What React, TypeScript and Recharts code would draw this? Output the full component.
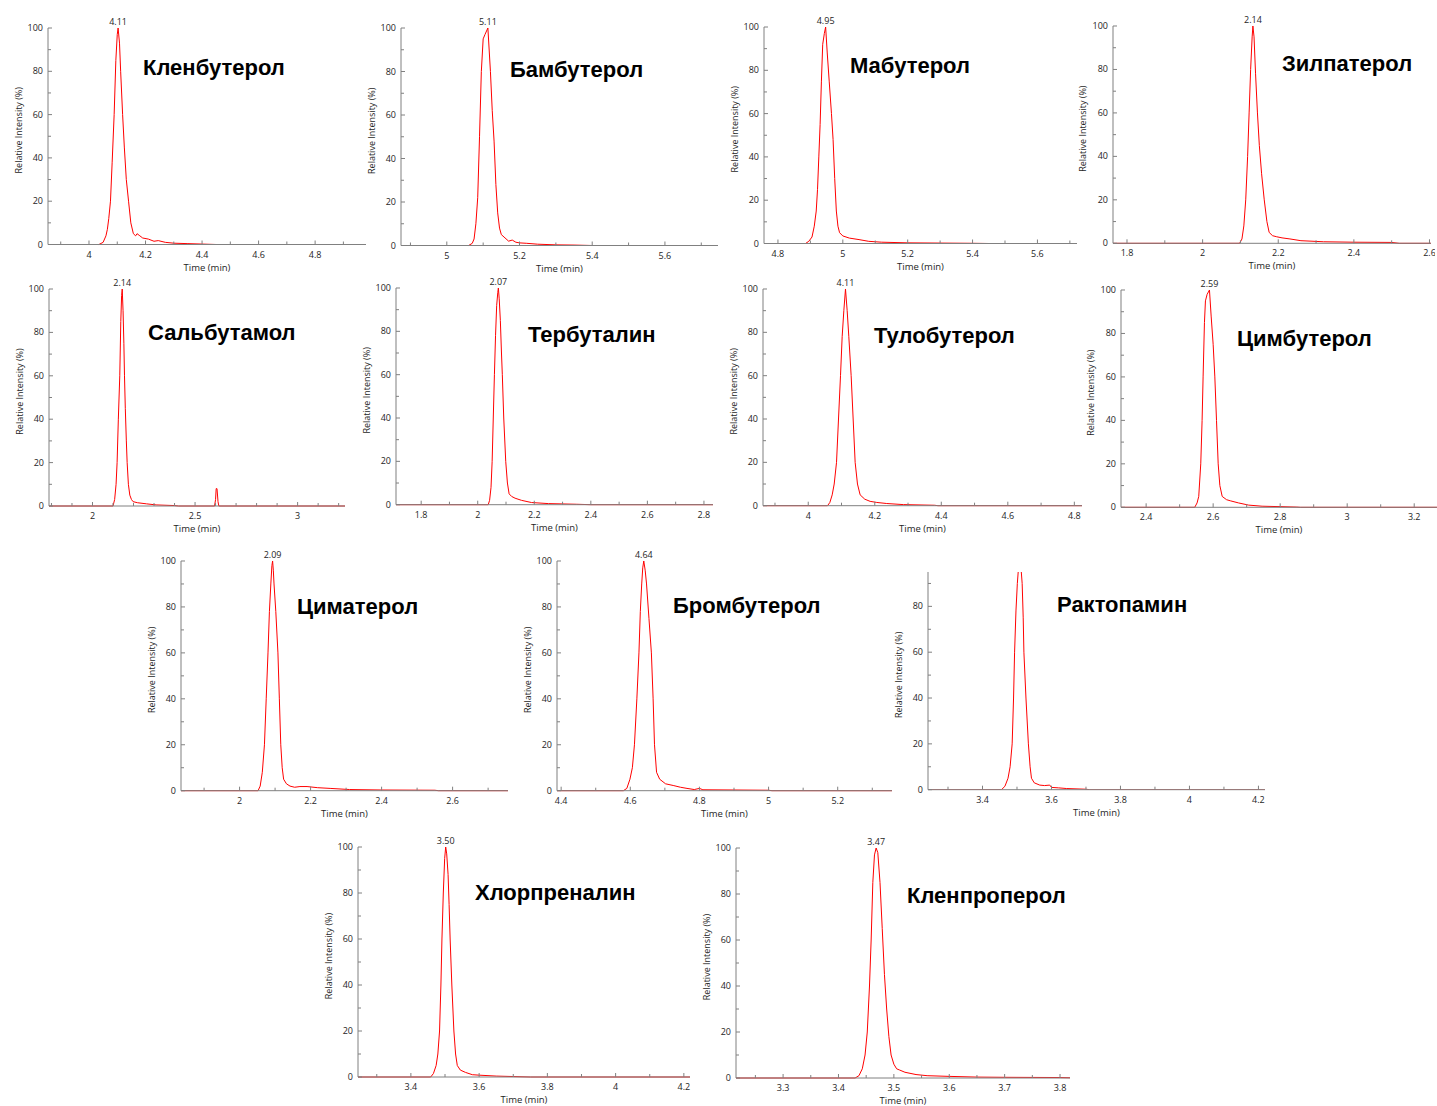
import React from 'react';
import { LineChart, Line, XAxis, YAxis, ReferenceDot } from 'recharts';

type Pt = [number, number];

// chromatogram traces: [time (min), relative intensity (%)]
const clenbuterol: Pt[] = [
  [3.855, 0], [4.035, 0], [4.05, 1], [4.06, 4], [4.065, 7], [4.07, 12], [4.076, 20], [4.082, 38],
  [4.089, 60], [4.095, 85], [4.1, 97], [4.103, 100], [4.108, 93], [4.112, 80], [4.119, 60], [4.125, 45],
  [4.132, 30], [4.14, 20], [4.148, 10], [4.157, 5], [4.165, 4], [4.17, 5], [4.18, 4], [4.19, 3],
  [4.21, 2.5], [4.23, 1.5], [4.245, 1.8], [4.27, 1], [4.3, 0.6], [4.35, 0.4], [4.4, 0.2], [4.45, 0], [4.98, 0],
];
const bambuterol: Pt[] = [
  [4.874, 0], [5.06, 0], [5.07, 1], [5.075, 3], [5.08, 10], [5.085, 22], [5.09, 50], [5.095, 80],
  [5.1, 95], [5.105, 97], [5.113, 100], [5.12, 80], [5.125, 62], [5.13, 48], [5.135, 28], [5.14, 15],
  [5.145, 8], [5.15, 5], [5.16, 3.5], [5.17, 2], [5.18, 2.5], [5.19, 1.5], [5.2, 1.2], [5.22, 1],
  [5.25, 0.6], [5.3, 0.3], [5.35, 0.2], [5.4, 0], [5.746, 0],
];
const mabuterol: Pt[] = [
  [4.757, 0], [4.885, 0], [4.895, 1], [4.905, 3], [4.912, 8], [4.918, 15], [4.922, 25], [4.926, 40],
  [4.93, 55], [4.934, 75], [4.938, 92], [4.943, 97], [4.947, 100], [4.952, 88], [4.958, 75], [4.965, 60],
  [4.97, 48], [4.975, 30], [4.98, 15], [4.985, 8], [4.99, 5], [5.0, 3.5], [5.02, 2.5], [5.05, 1.8],
  [5.08, 1], [5.12, 0.6], [5.2, 0.3], [5.3, 0.2], [5.4, 0.1], [5.45, 0], [5.722, 0],
];
const zilpaterol: Pt[] = [
  [1.763, 0], [2.098, 0], [2.104, 2], [2.109, 8], [2.114, 20], [2.119, 40], [2.123, 60], [2.127, 80],
  [2.131, 95], [2.133, 100], [2.136, 95], [2.14, 78], [2.145, 60], [2.15, 45], [2.156, 32], [2.163, 20],
  [2.17, 10], [2.176, 5], [2.185, 3.5], [2.196, 3], [2.21, 2.5], [2.231, 2], [2.26, 1.2], [2.284, 1],
  [2.32, 0.7], [2.4, 0.5], [2.5, 0.4], [2.52, 0], [2.604, 0],
];
const salbutamol: Pt[] = [
  [1.788, 0], [2.1, 0], [2.108, 3], [2.115, 10], [2.12, 20], [2.126, 40], [2.133, 60], [2.138, 85],
  [2.142, 97], [2.145, 100], [2.149, 90], [2.153, 75], [2.156, 60], [2.16, 45], [2.165, 30], [2.169, 20],
  [2.175, 10], [2.182, 5], [2.19, 3], [2.198, 2], [2.22, 1.5], [2.263, 1], [2.31, 0.5], [2.4, 0.2],
  [2.42, 0], [2.595, 0], [2.6, 3], [2.603, 8], [2.607, 8], [2.612, 2], [2.616, 0], [3.231, 0],
];
const terbutaline: Pt[] = [
  [1.711, 0], [2.037, 0], [2.042, 2], [2.047, 8], [2.051, 20], [2.055, 40], [2.059, 60], [2.063, 78],
  [2.067, 92], [2.071, 98], [2.073, 100], [2.076, 95], [2.08, 85], [2.084, 70], [2.087, 60], [2.092, 40],
  [2.099, 20], [2.105, 10], [2.111, 5], [2.12, 3.8], [2.132, 3], [2.155, 2], [2.19, 1], [2.25, 0.5],
  [2.35, 0.2], [2.4, 0], [2.832, 0],
];
const tulobuterol: Pt[] = [
  [3.864, 0], [4.058, 0], [4.065, 1.5], [4.072, 5], [4.078, 10], [4.085, 20], [4.091, 40], [4.097, 60],
  [4.102, 78], [4.107, 90], [4.112, 100], [4.117, 90], [4.122, 78], [4.129, 60], [4.135, 40], [4.141, 20],
  [4.148, 10], [4.156, 5], [4.17, 3], [4.186, 2], [4.206, 1.5], [4.236, 1], [4.286, 0.5], [4.38, 0.2],
  [4.39, 0], [4.823, 0],
];
const cimbuterol: Pt[] = [
  [2.325, 0], [2.545, 0], [2.552, 2], [2.557, 5], [2.563, 20], [2.567, 40], [2.57, 60], [2.574, 85],
  [2.577, 95], [2.582, 98], [2.589, 100], [2.594, 88], [2.6, 75], [2.605, 60], [2.61, 40], [2.615, 20],
  [2.62, 10], [2.627, 5], [2.64, 3.5], [2.651, 3], [2.676, 2], [2.706, 1], [2.746, 0.5], [2.8, 0.3],
  [2.85, 0.1], [2.86, 0], [3.268, 0],
];
const cimaterol: Pt[] = [
  [1.835, 0], [2.052, 0], [2.058, 2], [2.064, 8], [2.07, 20], [2.075, 40], [2.08, 60], [2.084, 78],
  [2.088, 90], [2.091, 98], [2.093, 100], [2.095, 96], [2.097, 90], [2.102, 78], [2.108, 60], [2.112, 40],
  [2.116, 20], [2.12, 10], [2.124, 5], [2.132, 3], [2.142, 2], [2.155, 1.5], [2.17, 1.8], [2.19, 1.8],
  [2.22, 1.3], [2.255, 1], [2.31, 0.5], [2.4, 0.3], [2.55, 0.2], [2.56, 0], [2.756, 0],
];
const brombuterol: Pt[] = [
  [4.388, 0], [4.58, 0], [4.59, 1], [4.599, 5], [4.606, 10], [4.612, 20], [4.619, 40], [4.625, 60],
  [4.629, 78], [4.633, 90], [4.636, 97], [4.639, 100], [4.643, 96], [4.647, 90], [4.654, 75], [4.661, 60],
  [4.666, 40], [4.67, 20], [4.676, 8], [4.685, 5], [4.702, 3], [4.726, 2.2], [4.745, 1.5], [4.764, 1],
  [4.785, 0.5], [4.8, 1], [4.81, 0.4], [4.9, 0.3], [5.0, 0.2], [5.01, 0], [5.357, 0],
];
const ractopamine: Pt[] = [
  [3.242, 0], [3.455, 0], [3.465, 1.5], [3.474, 5], [3.48, 10], [3.486, 20], [3.49, 40], [3.493, 60],
  [3.497, 78], [3.501, 90], [3.505, 98], [3.508, 100], [3.511, 98], [3.515, 90], [3.518, 75], [3.52, 60],
  [3.526, 40], [3.533, 20], [3.538, 10], [3.542, 5], [3.55, 3], [3.566, 2], [3.58, 1.8], [3.595, 2],
  [3.6, 1], [3.62, 0.8], [3.644, 0.5], [3.7, 0.2], [3.71, 0], [4.219, 0],
];
const clorprenaline: Pt[] = [
  [3.245, 0], [3.458, 0], [3.466, 1.5], [3.474, 5], [3.479, 10], [3.484, 20], [3.488, 40], [3.491, 60],
  [3.495, 80], [3.499, 95], [3.502, 100], [3.505, 97], [3.509, 88], [3.512, 75], [3.515, 60], [3.52, 40],
  [3.526, 20], [3.531, 10], [3.536, 5], [3.545, 3], [3.56, 2], [3.58, 1], [3.6, 0.8], [3.65, 0.4],
  [3.7, 0.2], [3.75, 0], [4.218, 0],
];
const clenproperol: Pt[] = [
  [3.215, 0], [3.43, 0], [3.437, 1], [3.443, 4], [3.448, 10], [3.452, 20], [3.456, 40], [3.459, 60],
  [3.462, 85], [3.465, 97], [3.468, 100], [3.471, 98], [3.475, 85], [3.479, 65], [3.483, 45], [3.487, 30],
  [3.491, 18], [3.495, 10], [3.5, 6], [3.505, 4], [3.51, 3.5], [3.52, 2.5], [3.54, 1.5], [3.56, 1],
  [3.6, 0.7], [3.65, 0.4], [3.7, 0.3], [3.8, 0.2], [3.818, 0.1],
];

const yMajorFull = [0, 20, 40, 60, 80, 100];
const yMinorFull = [10, 30, 50, 70, 90];
const yMajorCut = [0, 20, 40, 60, 80];

const AXIS = '#808080';
const TEXT = '#1e1e1e';
const RED = '#ff0000';

// chart frame around the plot area
const ML = 4, YW = 40, MR = 4, MT = 14, XH = 30, MB = 2;

interface PanelDef {
  title: string;
  trace: Pt[];
  x0: number; x1: number; yTop: number; yBot: number;
  xDomain: [number, number];
  xMajor: number[];
  xStep: number;
  yMax: number;
  yMajor: number[];
  peakT?: number;
  peakLabel?: string;
  titleX: number; titleY: number;
}

const panels: PanelDef[] = [
  { title: 'Кленбутерол', trace: clenbuterol, x0: 48, x1: 366, yTop: 27.5, yBot: 244, xDomain: [3.855, 4.98], xMajor: [4, 4.2, 4.4, 4.6, 4.8], xStep: 0.1, yMax: 100, yMajor: yMajorFull, peakT: 4.103, peakLabel: '4.11', titleX: 143, titleY: 68 },
  { title: 'Бамбутерол', trace: bambuterol, x0: 401, x1: 718, yTop: 28, yBot: 245.5, xDomain: [4.874, 5.746], xMajor: [5, 5.2, 5.4, 5.6], xStep: 0.1, yMax: 100, yMajor: yMajorFull, peakT: 5.113, peakLabel: '5.11', titleX: 510, titleY: 70 },
  { title: 'Мабутерол', trace: mabuterol, x0: 764, x1: 1077, yTop: 26.5, yBot: 243, xDomain: [4.757, 5.722], xMajor: [4.8, 5, 5.2, 5.4, 5.6], xStep: 0.1, yMax: 100, yMajor: yMajorFull, peakT: 4.947, peakLabel: '4.95', titleX: 850, titleY: 66 },
  { title: 'Зилпатерол', trace: zilpaterol, x0: 1113, x1: 1431, yTop: 26, yBot: 243.3, xDomain: [1.763, 2.604], xMajor: [1.8, 2, 2.2, 2.4, 2.6], xStep: 0.1, yMax: 100, yMajor: yMajorFull, peakT: 2.133, peakLabel: '2.14', titleX: 1282, titleY: 64 },
  { title: 'Сальбутамол', trace: salbutamol, x0: 49, x1: 345, yTop: 289, yBot: 506, xDomain: [1.788, 3.231], xMajor: [2, 2.5, 3], xStep: 0.1, yMax: 100, yMajor: yMajorFull, peakT: 2.145, peakLabel: '2.14', titleX: 148, titleY: 333 },
  { title: 'Тербуталин', trace: terbutaline, x0: 396, x1: 713, yTop: 288.3, yBot: 505, xDomain: [1.711, 2.832], xMajor: [1.8, 2, 2.2, 2.4, 2.6, 2.8], xStep: 0.1, yMax: 100, yMajor: yMajorFull, peakT: 2.073, peakLabel: '2.07', titleX: 528, titleY: 335 },
  { title: 'Тулобутерол', trace: tulobuterol, x0: 763, x1: 1082, yTop: 289.3, yBot: 506, xDomain: [3.864, 4.823], xMajor: [4, 4.2, 4.4, 4.6, 4.8], xStep: 0.1, yMax: 100, yMajor: yMajorFull, peakT: 4.112, peakLabel: '4.11', titleX: 874, titleY: 336 },
  { title: 'Цимбутерол', trace: cimbuterol, x0: 1121, x1: 1437, yTop: 290, yBot: 507.3, xDomain: [2.325, 3.268], xMajor: [2.4, 2.6, 2.8, 3, 3.2], xStep: 0.1, yMax: 100, yMajor: yMajorFull, peakT: 2.589, peakLabel: '2.59', titleX: 1237, titleY: 339 },
  { title: 'Циматерол', trace: cimaterol, x0: 181, x1: 508, yTop: 561, yBot: 790.7, xDomain: [1.835, 2.756], xMajor: [2, 2.2, 2.4, 2.6], xStep: 0.1, yMax: 100, yMajor: yMajorFull, peakT: 2.093, peakLabel: '2.09', titleX: 297, titleY: 607 },
  { title: 'Бромбутерол', trace: brombuterol, x0: 557, x1: 892, yTop: 561, yBot: 790.7, xDomain: [4.388, 5.357], xMajor: [4.4, 4.6, 4.8, 5, 5.2], xStep: 0.1, yMax: 100, yMajor: yMajorFull, peakT: 4.639, peakLabel: '4.64', titleX: 673, titleY: 606 },
  { title: 'Рактопамин', trace: ractopamine, x0: 928, x1: 1265, yTop: 572.3, yBot: 790, xDomain: [3.242, 4.219], xMajor: [3.4, 3.6, 3.8, 4, 4.2], xStep: 0.1, yMax: 95, yMajor: yMajorCut, titleX: 1057, titleY: 605 },
  { title: 'Хлорпреналин', trace: clorprenaline, x0: 358, x1: 690, yTop: 847, yBot: 1077, xDomain: [3.245, 4.218], xMajor: [3.4, 3.6, 3.8, 4, 4.2], xStep: 0.1, yMax: 100, yMajor: yMajorFull, peakT: 3.502, peakLabel: '3.50', titleX: 475, titleY: 893 },
  { title: 'Кленпроперол', trace: clenproperol, x0: 736, x1: 1070, yTop: 848, yBot: 1078, xDomain: [3.215, 3.818], xMajor: [3.3, 3.4, 3.5, 3.6, 3.7, 3.8], xStep: 0.05, yMax: 100, yMajor: yMajorFull, peakT: 3.468, peakLabel: '3.47', titleX: 907, titleY: 896 },
];

const isIn = (arr: number[], v: number) => arr.some((m) => Math.abs(m - v) < 1e-6);

function minorTicks(domain: [number, number], step: number, majors: number[]) {
  const out: number[] = [];
  const start = Math.ceil(domain[0] / step - 1e-9);
  for (let k = start; k * step <= domain[1] + 1e-9; k++) {
    const v = Math.round(k * step * 1000) / 1000;
    if (!isIn(majors, v)) out.push(v);
  }
  return out;
}

const fmt = (v: number) => String(Number(v.toFixed(2)));

const XTick = (props: any) => {
  const { x, y, payload, majors } = props;
  const major = isIn(majors, payload.value);
  return (
    <g>
      <line x1={x} x2={x} y1={y} y2={y - (major ? 4 : 3)} stroke={AXIS} />
      {major && (
        <text x={x} y={y + 13} textAnchor="middle" fontSize={9} fill={TEXT}>
          {fmt(payload.value)}
        </text>
      )}
    </g>
  );
};

const YTick = (props: any) => {
  const { x, y, payload, majors } = props;
  const major = isIn(majors, payload.value);
  return (
    <g>
      <line x1={x} x2={x + (major ? 4 : 3)} y1={y} y2={y} stroke={AXIS} />
      {major && (
        <text x={x - 5} y={y + 3} textAnchor="end" fontSize={9} fill={TEXT}>
          {payload.value}
        </text>
      )}
    </g>
  );
};

// rotated y-axis title, sitting a little above the middle of the axis
const YTitle = (props: any) => {
  const vb = props.viewBox || {};
  const cx = vb.x + 10;
  const cy = vb.y + vb.height / 2 - 6;
  return (
    <text
      x={cx}
      y={cy}
      transform={`rotate(-90, ${cx}, ${cy})`}
      textAnchor="middle"
      dominantBaseline="central"
      fontSize={9}
      fill={TEXT}
    >
      Relative Intensity (%)
    </text>
  );
};

function Panel({ def }: { def: PanelDef }) {
  const data = def.trace.map(([t, v]) => ({ t, v }));
  const w = def.x1 - def.x0 + ML + YW + MR;
  const h = def.yBot - def.yTop + MT + XH + MB;
  const xTicks = [...def.xMajor, ...minorTicks(def.xDomain, def.xStep, def.xMajor)].sort((a, b) => a - b);
  const yTicks = [...def.yMajor, ...yMinorFull].sort((a, b) => a - b);
  return (
    <div style={{ position: 'absolute', left: def.x0 - ML - YW, top: def.yTop - MT, width: w, height: h }}>
      <LineChart width={w} height={h} data={data} margin={{ top: MT, right: MR, bottom: MB, left: ML }}>
        <XAxis
          type="number"
          dataKey="t"
          domain={def.xDomain}
          ticks={xTicks}
          interval={0}
          height={XH}
          tickSize={0}
          tickMargin={0}
          tickLine={false}
          axisLine={{ stroke: AXIS }}
          tick={(p: any) => <XTick {...p} majors={def.xMajor} />}
          label={{ value: 'Time (min)', position: 'insideBottom', offset: 4, fontSize: 9.5, fill: TEXT }}
        />
        <YAxis
          type="number"
          domain={[0, def.yMax]}
          allowDataOverflow={def.yMax < 100}
          ticks={yTicks}
          interval={0}
          width={YW}
          tickSize={0}
          tickMargin={0}
          tickLine={false}
          axisLine={{ stroke: AXIS }}
          tick={(p: any) => <YTick {...p} majors={def.yMajor} />}
          label={{ content: (lp: any) => <YTitle {...lp} /> }}
        />
        <Line type="linear" dataKey="v" stroke={RED} strokeWidth={1} dot={false} isAnimationActive={false} />
        {def.peakLabel && def.peakT !== undefined && (
          <ReferenceDot
            x={def.peakT}
            y={100}
            r={0}
            fill="none"
            stroke="none"
            label={{ value: def.peakLabel, position: 'top', offset: 3, fontSize: 9, fill: TEXT }}
          />
        )}
      </LineChart>
    </div>
  );
}

export default function App() {
  return (
    <div
      style={{
        position: 'absolute',
        left: 0,
        top: 0,
        width: 1437,
        height: 1106,
        background: '#ffffff',
        overflow: 'hidden',
        fontFamily: "'Open Sans', 'DejaVu Sans', sans-serif",
      }}
    >
      {panels.map((p) => (
        <Panel key={p.title} def={p} />
      ))}
      {panels.map((p) => (
        <div
          key={`t-${p.title}`}
          style={{
            position: 'absolute',
            left: p.titleX,
            top: p.titleY - 12,
            lineHeight: '24px',
            fontFamily: "'Liberation Sans', Arial, sans-serif",
            fontWeight: 'bold',
            fontSize: 22,
            color: '#000',
            whiteSpace: 'nowrap',
          }}
        >
          {p.title}
        </div>
      ))}
    </div>
  );
}
